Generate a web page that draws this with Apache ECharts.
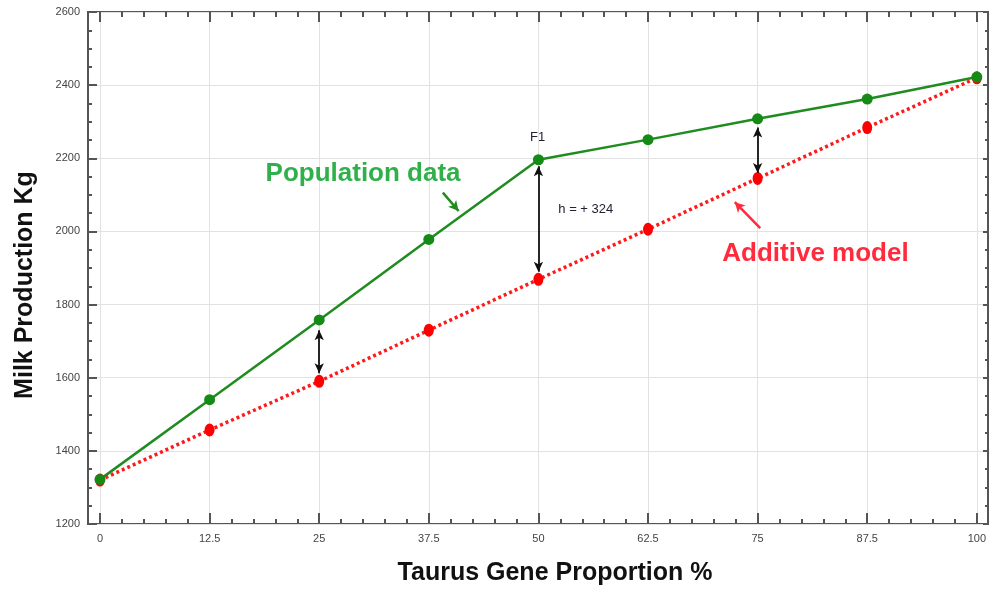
<!DOCTYPE html>
<html><head><meta charset="utf-8">
<script src="https://cdn.jsdelivr.net/npm/echarts@6/dist/echarts.min.js"></script>
<style>html,body{margin:0;padding:0;background:#fff}#c{width:989px;height:592px}</style>
</head><body><div id="c"></div>
<script>
// ---- data ----
const xValues = [0, 12.5, 25, 37.5, 50, 62.5, 75, 87.5, 100];
const populationData = [1322, 1540, 1758, 1978, 2196, 2251, 2308, 2362, 2422];
const additiveModel = [1320, 1457, 1590, 1730, 1869, 2006, 2145, 2284, 2420];
const xTicks = [0, 12.5, 25, 37.5, 50, 62.5, 75, 87.5, 100];
const yTicks = [1200, 1400, 1600, 1800, 2000, 2200, 2400, 2600];
const xTitle = 'Taurus Gene Proportion %';
const yTitle = 'Milk Production Kg';
const diffArrows = [ // [x, fromY, toY]
  [25, 1730, 1612],
  [50, 2178, 1890],
  [75, 2284, 2160]
];
const annotations = [ // [text, x, y]
  ['Population data', 30, 2157],
  ['Additive model', 81.6, 1938],
  ['F1', 49.9, 2258],
  ['h = + 324', 55.4, 2059]
];
const pointerArrows = [ // [x1,y1,x2,y2]
  [39.1, 2106, 40.9, 2056],
  [75.3, 2009, 72.4, 2080]
];

const chart = echarts.init(document.getElementById('c'));
const tickFont = {fontFamily: 'Liberation Sans Narrow, Liberation Sans, Arial', fontSize: 11, color: '#444'};

chart.setOption({
  animation: false,
  backgroundColor: '#fff',
  grid: [
    {left: 100, right: 7, top: 12, bottom: 68},
    {left: 88, right: 1, top: 12, bottom: 68, show: true, borderColor: '#555', borderWidth: 2, backgroundColor: 'transparent'}
  ],
  xAxis: [
    {gridIndex: 0, type: 'value', min: 0, max: 100, interval: 12.5, position: 'bottom',
     axisLine: {show: false},
     axisTick: {show: true, inside: true, length: 11, lineStyle: {color: '#555', width: 2}},
     minorTick: {show: true, splitNumber: 5, length: 5, lineStyle: {color: '#555', width: 2}},
     axisLabel: Object.assign({margin: 9, formatter: v => xTicks.includes(v) ? String(v) : ''}, tickFont),
     splitLine: {show: true, lineStyle: {color: '#e2e2e2', width: 1}}},
    {gridIndex: 0, type: 'value', min: 0, max: 100, interval: 12.5, position: 'top',
     axisLine: {show: false},
     axisTick: {show: true, inside: true, length: 10, lineStyle: {color: '#555', width: 2}},
     minorTick: {show: true, splitNumber: 5, length: 5, lineStyle: {color: '#555', width: 2}},
     axisLabel: {show: false}, splitLine: {show: false}},
    {gridIndex: 1, type: 'value', min: 0, max: 1, show: false}
  ],
  yAxis: [
    {gridIndex: 0, type: 'value', min: 1200, max: 2600, interval: 200, show: false},
    {gridIndex: 1, type: 'value', min: 1200, max: 2600, interval: 200, position: 'left',
     axisLine: {show: false},
     axisTick: {show: true, inside: true, length: 9, lineStyle: {color: '#555', width: 2}},
     minorTick: {show: true, splitNumber: 4, length: 4, lineStyle: {color: '#555', width: 2}},
     axisLabel: Object.assign({margin: 8, formatter: v => yTicks.includes(v) ? String(v) : ''}, tickFont),
     splitLine: {show: true, lineStyle: {color: '#e2e2e2', width: 1}}},
    {gridIndex: 1, type: 'value', min: 1200, max: 2600, interval: 200, position: 'right',
     axisLine: {show: false},
     axisTick: {show: true, inside: true, length: 5, lineStyle: {color: '#555', width: 2}},
     minorTick: {show: true, splitNumber: 4, length: 3, lineStyle: {color: '#555', width: 2}},
     axisLabel: {show: false}, splitLine: {show: false}}
  ],
  series: [
    {type: 'line', xAxisIndex: 0, yAxisIndex: 0, z: 3,
     data: xValues.map((x, i) => [x, additiveModel[i]]),
     lineStyle: {color: '#ff1a1a', width: 3.5, type: [3, 3]},
     symbol: 'circle', symbolSize: [10, 13],
     itemStyle: {color: '#ff0000', borderWidth: 0}},
    {type: 'line', xAxisIndex: 0, yAxisIndex: 0, z: 4,
     data: xValues.map((x, i) => [x, populationData[i]]),
     lineStyle: {color: '#1e8c1e', width: 2.5},
     symbol: 'circle', symbolSize: 11,
     itemStyle: {color: '#168a16', borderWidth: 0},
     markLine: {silent: true, symbol: ['arrow', 'arrow'], symbolSize: [7, 10],
       lineStyle: {color: '#111', width: 1.8, type: 'solid'}, label: {show: false},
       data: diffArrows.map(a => [{coord: [a[0], a[1]]}, {coord: [a[0], a[2]]}])}},
    {type: 'line', xAxisIndex: 0, yAxisIndex: 0, z: 5, silent: true,
     data: [], markLine: {silent: true, symbol: ['none', 'arrow'], symbolSize: [8, 10],
       label: {show: false}, lineStyle: {type: 'solid', width: 2.5},
       data: [
         [{coord: [pointerArrows[0][0], pointerArrows[0][1]], lineStyle: {color: '#1e8c1e'}}, {coord: [pointerArrows[0][2], pointerArrows[0][3]]}],
         [{coord: [pointerArrows[1][0], pointerArrows[1][1]], lineStyle: {color: '#ff2a3a'}}, {coord: [pointerArrows[1][2], pointerArrows[1][3]]}]
       ]}}
  ]
});

const styles = [
  {fontSize: 26, fontWeight: 'bold', fill: '#2fb04a', fontFamily: 'Liberation Sans, Arial'},
  {fontSize: 26, fontWeight: 'bold', fill: '#ff2b3c', fontFamily: 'Liberation Sans, Arial'},
  {fontSize: 13, fontWeight: 'normal', fill: '#223', fontFamily: 'Liberation Sans, Arial'},
  {fontSize: 13, fontWeight: 'normal', fill: '#223', fontFamily: 'Liberation Sans, Arial'}
];
const titleStyle = {fontSize: 25, fontWeight: 'bold', fill: '#111', fontFamily: 'Liberation Sans, Arial', align: 'center', verticalAlign: 'middle'};
const g = annotations.map((a, i) => {
  const p = chart.convertToPixel({xAxisIndex: 0, yAxisIndex: 0}, [a[1], a[2]]);
  return {type: 'text', x: p[0], y: p[1], z: 10,
    style: Object.assign({text: a[0], align: 'center', verticalAlign: 'middle'}, styles[i])};
});
g.push({type: 'text', x: 555, y: 573, z: 10, style: Object.assign({text: xTitle}, titleStyle)});
g.push({type: 'text', x: 25, y: 285, rotation: Math.PI / 2, z: 10, style: Object.assign({text: yTitle}, titleStyle)});
chart.setOption({graphic: g});
</script></body></html>
